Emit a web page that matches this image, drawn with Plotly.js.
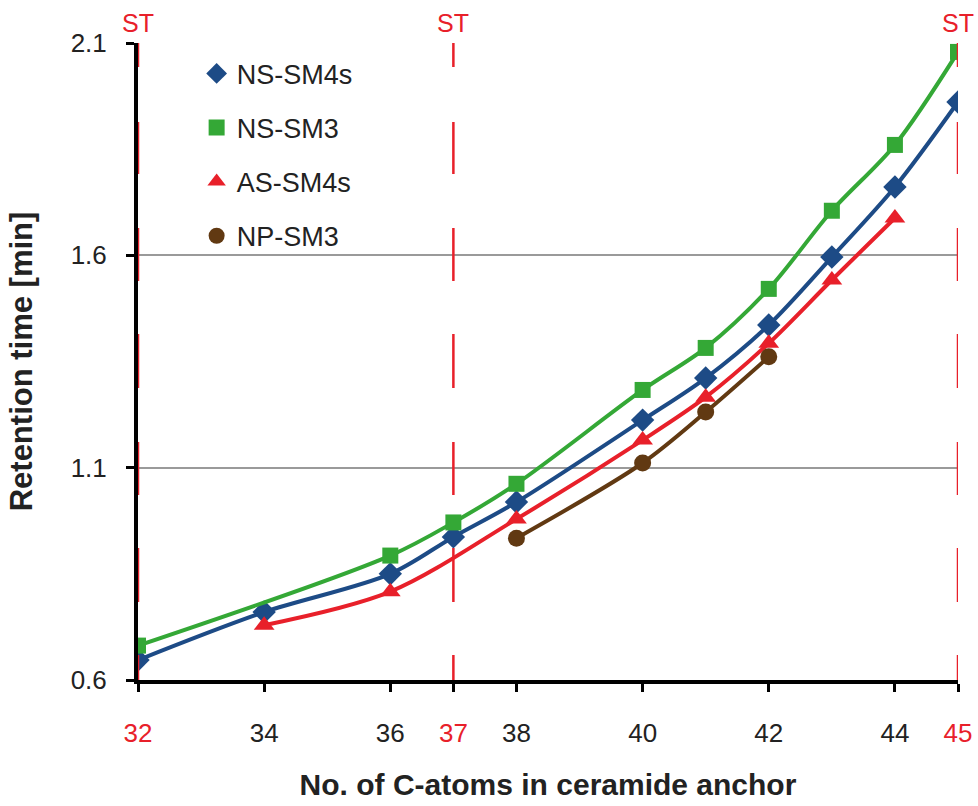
<!DOCTYPE html>
<html>
<head>
<meta charset="utf-8">
<script src="https://cdn.plot.ly/plotly-3.0.1.min.js"></script>
<style>html,body{margin:0;padding:0;background:#fff;}#chart{width:978px;height:806px;}</style>
</head>
<body>
<div id="chart"></div>
<script>
// Data
const nsSm4sX = [32, 34, 36, 37, 38, 40, 41, 42, 43, 44, 45];
const nsSm4sY = [0.647, 0.76, 0.850, 0.937, 1.019, 1.212, 1.311, 1.436, 1.596, 1.761, 1.961];
const nsSm3X = [32, 36, 37, 38, 40, 41, 42, 43, 44, 45];
const nsSm3Y = [0.681, 0.893, 0.971, 1.062, 1.283, 1.382, 1.521, 1.705, 1.860, 2.079];
const asSm4sX = [34, 36, 38, 40, 41, 42, 43, 44];
const asSm4sY = [0.729, 0.808, 0.979, 1.165, 1.266, 1.393, 1.542, 1.688];
const npSm3X = [38, 40, 41, 42];
const npSm3Y = [0.934, 1.111, 1.231, 1.361];
const stPositions = [32, 37, 45];
const xTickVals = [32, 34, 36, 37, 38, 40, 42, 44, 45];
const yTickVals = [0.6, 1.1, 1.6, 2.1];
const seriesNames = ['NS-SM4s', 'NS-SM3', 'AS-SM4s', 'NP-SM3'];

const RED = '#e8202a';
const FONT = 'Liberation Sans, Arial, sans-serif';
const colors = ['#1d4b86', '#34a836', RED, '#613912'];
const symbols = ['diamond', 'square', 'triangle-up', 'circle'];
const sizes = [18, 16, 18, 17];
const xs = [nsSm4sX, nsSm3X, asSm4sX, npSm3X];
const ys = [nsSm4sY, nsSm3Y, asSm4sY, npSm3Y];

const data = [];
for (let i = 0; i < 4; i++) {
  data.push({
    type: 'scatter', mode: 'lines+markers', name: seriesNames[i], x: xs[i], y: ys[i],
    showlegend: false,
    line: {color: colors[i], width: 4, shape: 'spline', smoothing: 0.9},
    marker: {color: colors[i], symbol: symbols[i], size: sizes[i]}
  });
}
// legend entries (marker only, like the reference legend)
for (let i = 0; i < 4; i++) {
  data.push({
    type: 'scatter', mode: 'markers', name: seriesNames[i], x: [null], y: [null],
    legendgroup: 'g' + i, showlegend: true,
    marker: {color: colors[i], symbol: symbols[i], size: sizes[i]}
  });
}

const dashPattern = '25px,53px,54px,53px,53px,54px,54px,53px,53px,54px,52px,55px,40px';
const shapes = stPositions.map(v => ({
  type: 'line', xref: 'x', yref: 'paper', x0: v, x1: v, y0: 0, y1: 1,
  line: {color: RED, width: 2.5, dash: dashPattern}, layer: 'above'
}));

const annotations = stPositions.map(v => ({
  xref: 'x', yref: 'paper', x: v, y: 1, yanchor: 'bottom', xanchor: 'center',
  yshift: 4, text: 'ST', showarrow: false, font: {family: FONT, size: 25, color: RED}
}));

const xTickText = xTickVals.map(v => stPositions.includes(v)
  ? '<span style="color:' + RED + '">' + v + '</span>' : String(v));

const layout = {
  width: 978, height: 806,
  margin: {l: 138, r: 20, t: 43, b: 126},
  paper_bgcolor: '#fff', plot_bgcolor: '#fff',
  font: {family: FONT, color: '#222'},
  showlegend: true,
  legend: {x: 0.0715, y: 0.99, xanchor: 'left', yanchor: 'top',
           bgcolor: 'rgba(0,0,0,0)', font: {family: FONT, size: 27, color: '#222'},
           tracegroupgap: 16, itemwidth: 30},
  xaxis: {
    range: [32, 45], tickvals: xTickVals, ticktext: xTickText,
    showgrid: false, zeroline: false,
    showline: true, linecolor: '#000', linewidth: 4,
    ticks: 'outside', ticklen: 8, tickwidth: 3, tickcolor: '#000',
    tickfont: {family: FONT, size: 26, color: '#222'},
    ticklabelstandoff: 19,
    title: {text: '<b>No. of C-atoms in ceramide anchor</b>', font: {family: FONT, size: 30, color: '#222'}, standoff: 28}
  },
  yaxis: {
    range: [0.6, 2.1], tickvals: yTickVals, ticktext: ['0.6', '1.1', '1.6', '2.1'],
    showgrid: true, gridcolor: '#9a9a9a', gridwidth: 2, zeroline: false,
    showline: true, linecolor: '#000', linewidth: 4,
    ticks: 'outside', ticklen: 8, tickwidth: 3, tickcolor: '#000',
    tickfont: {family: FONT, size: 26, color: '#222'},
    ticklabelstandoff: 14,
    title: {text: '<b>Retention time [min]</b>', font: {family: FONT, size: 31, color: '#222'}, standoff: 30}
  },
  shapes: shapes,
  annotations: annotations
};

Plotly.newPlot('chart', data, layout, {displayModeBar: false, staticPlot: true});
</script>
</body>
</html>
